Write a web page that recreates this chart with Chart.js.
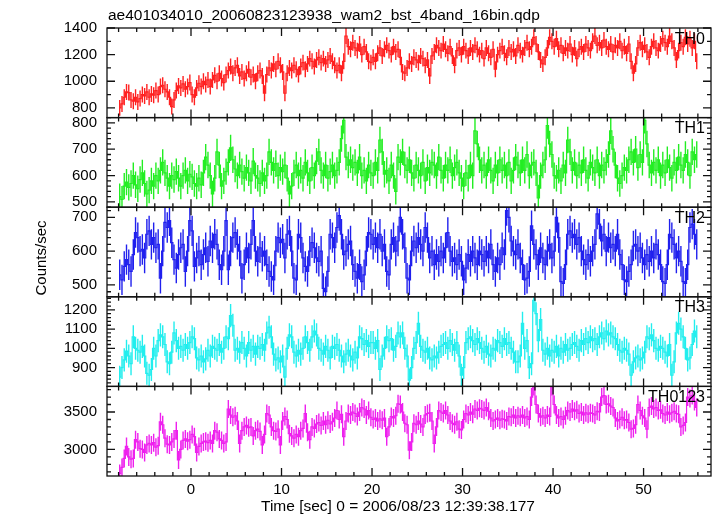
<!DOCTYPE html>
<html><head><meta charset="utf-8">
<script src="https://cdn.jsdelivr.net/npm/chart.js@4.4.1/dist/chart.umd.min.js"></script>
<style>html,body{margin:0;padding:0;background:#fff;}#wrap{width:717px;height:516px;}</style>
</head><body><div id="wrap"><canvas id="c" width="717" height="516"></canvas></div>
<script>
const TITLE = "ae401034010_20060823123938_wam2_bst_4band_16bin.qdp";
const X_TITLE = "Time [sec] 0 = 2006/08/23 12:39:38.177";
const Y_TITLE = "Counts/sec";
const BIN_START = -7.875, BIN_WIDTH = 0.25;
const panelNames = ["TH0", "TH1", "TH2", "TH3", "TH0123"];
const xTickLabels = [0, 10, 20, 30, 40, 50];
const yTickLabels = [
  [800, 1000, 1200, 1400],
  [500, 600, 700, 800],
  [500, 600, 700],
  [900, 1000, 1100, 1200],
  [3000, 3500]
];

const th0 = [
800,830,880,920,915,860,850,880, 845,870,900,890,920,880,905,895,
930,900,960,970,940,920,880,810, 860,930,965,950,980,940,960,990,
900,880,950,985,960,1000,975,1010, 960,1010,1045,1000,1060,1020,990,1050,
1080,1110,1060,1100,1120,1040,1070,1020, 1060,1090,1030,1050,1000,1060,1080,1040,
910,1050,1100,1080,1130,1090,1150,1120, 1070,910,1060,1100,1080,1120,1090,1050,
1110,1140,1090,1130,1170,1150,1110,1160, 1180,1140,1170,1130,1160,1190,1150,1120,
1080,1120,1060,1150,1340,1260,1240,1290, 1250,1230,1280,1200,1260,1220,1150,1140,
1180,1150,1210,1250,1190,1240,1270,1230, 1200,1260,1220,1240,1180,1070,1060,1100,
1150,1130,1180,1160,1140,1190,1170,1120, 1160,1040,1190,1220,1270,1250,1230,1280,
1240,1210,1260,1190,1120,1230,1250,1200, 1260,1230,1190,1250,1220,1270,1240,1200,
1230,1170,1250,1210,1180,1240,1090,1200, 1230,1260,1210,1180,1250,1220,1240,1190,
1270,1230,1200,1250,1290,1240,1260,1330, 1280,1220,1160,1130,1180,1250,1330,1300,
1260,1320,1240,1270,1210,1250,1230,1280, 1200,1250,1170,1240,1260,1220,1280,1250,
1230,1300,1340,1270,1290,1250,1310,1260, 1240,1280,1220,1270,1250,1300,1230,1260,
1210,1280,1150,1060,1130,1250,1290,1240, 1270,1220,1180,1260,1300,1250,1230,1280,
1320,1290,1260,1340,1300,1250,1160,1230, 1290,1260,1330,1280,1320,1250,1300,1150
];
const th1 = [
520,510,560,575,555,570,600,565, 550,585,610,570,530,545,580,560,
600,580,620,650,610,590,560,600, 585,615,590,560,600,620,580,605,
595,570,560,590,565,610,670,640, 600,530,590,690,640,560,580,615,
650,705,660,625,600,640,615,590, 630,610,580,655,600,590,570,610,
580,600,690,650,620,645,600,630, 615,640,590,530,560,610,640,600,
620,590,650,610,580,630,600,655, 690,620,600,640,590,615,640,600,
620,650,740,810,670,640,660,630, 650,610,670,600,620,580,640,610,
600,650,620,735,690,605,620,580, 640,600,540,670,650,690,640,620,
660,610,590,640,620,600,650,580, 630,610,650,640,600,670,620,590,
640,620,660,600,630,650,610,590, 560,610,590,640,600,770,720,660,
620,640,600,660,620,580,640,610, 660,620,640,600,650,580,620,670,
640,610,660,620,680,600,640,650, 610,515,600,640,660,790,720,680,
600,590,620,580,640,610,735,690, 620,650,600,640,610,660,620,590,
650,630,610,660,600,640,620,650, 680,770,700,640,590,570,600,630,
620,660,690,650,700,630,680,650, 810,720,640,610,650,620,660,600,
640,610,660,630,590,650,620,670, 640,620,680,650,600,690,660,680
];
const th2 = [
530,515,555,575,560,540,590,655, 640,600,605,580,650,660,620,640,
610,620,520,600,685,670,690,625, 575,550,590,610,620,540,600,690,
660,555,580,600,560,590,610,570, 630,610,650,620,560,545,600,690,
545,600,640,655,620,600,520,560, 610,580,620,690,600,570,610,585,
600,560,540,525,515,600,640,625, 635,580,650,660,600,520,515,650,
640,580,555,540,600,625,610,580, 570,600,490,480,540,650,640,610,
670,705,650,590,600,620,630,560, 540,520,560,510,530,600,655,650,
620,640,610,650,600,620,540,530, 620,640,600,630,700,650,610,520,
515,600,630,610,640,620,600,670, 640,580,600,560,590,570,600,580,
610,655,600,570,580,560,590,570, 515,550,590,570,600,580,560,600,
590,570,600,580,620,560,540,580, 560,610,590,720,700,630,600,590,
620,580,560,515,520,540,675,620, 590,560,610,580,560,600,620,580,
600,700,640,510,505,560,650,660, 640,650,620,640,600,575,560,590,
570,600,620,710,680,630,650,600, 640,610,620,600,650,590,560,515,
510,540,560,615,620,600,610,580, 560,590,570,600,580,620,590,560,
510,505,560,650,640,620,580,600, 570,510,505,560,670,680,650,620
];
const th3 = [
850,900,940,985,960,920,1060,1000, 990,980,1010,960,870,860,890,1000,
960,1040,1070,1060,1020,930,920,980, 1080,1040,1000,1010,990,1020,1000,1030,
1060,1050,950,940,960,930,945,990, 960,1010,1000,990,1020,980,1000,1060,
1050,1170,1120,990,1000,980,1030,1000, 960,1030,990,1010,970,1010,1000,1020,
990,1080,1110,1060,970,940,950,930, 960,850,1000,1070,1060,980,960,990,
970,1000,1060,1030,990,1060,1090,1070, 1000,990,970,1010,990,950,1010,1000,
1020,990,960,930,970,990,960,940, 980,950,1060,1050,1020,1040,1010,1030,
1030,1000,1040,890,960,1000,1060,1040, 1050,990,1010,1080,1060,1080,1000,960,
835,900,1000,1030,1130,1010,990,980, 1000,950,940,960,950,980,1010,1020,
1030,1000,1040,1020,990,1030,960,860, 900,1030,1050,1060,1040,1020,1050,1030,
1000,980,1010,970,960,1000,990,1040, 1030,1010,1050,1020,1030,1000,980,930,
930,960,1130,1000,1040,900,920,1250, 1180,1040,1150,990,970,1000,960,990,
980,1010,960,1000,980,1020,990,1000, 1020,1030,1010,990,1040,1020,1050,1030,
1060,1040,1050,1020,1060,1080,1050,1090, 1070,1080,1060,1050,1020,990,980,1000,
990,970,860,930,950,960,940,950, 980,1060,1050,1070,1040,1000,990,1010,
1000,980,960,1020,860,930,1080,1130, 1100,1060,1000,940,950,1020,1090,1060
];
const th0123 = [
2680,2760,2880,3040,2900,2870,2880,3130, 3100,3010,3000,2960,3060,3080,3060,3090,
3030,3050,3370,3330,3150,3070,3060,3100, 3140,3250,2860,3000,3120,3140,3110,3130,
3200,3170,2960,3040,3080,3100,3110,3090, 3120,3080,3250,3230,3140,3120,3080,3100,
3540,3460,3430,3450,3380,3080,3250,3300, 3320,3290,3300,3180,3250,3270,3240,3060,
3200,3480,3460,3300,3250,3240,3270,3060, 3380,3440,3400,3210,3180,3150,3200,3170,
3250,3280,3480,3230,3130,3300,3280,3340, 3360,3320,3380,3330,3390,3340,3370,3420,
3520,3400,3470,3170,3380,3480,3460,3500, 3480,3440,3500,3560,3540,3460,3520,3430,
3400,3420,3380,3410,3390,3420,3170,3300, 3440,3420,3450,3610,3600,3500,3350,3330,
2990,3100,3350,3330,3380,3340,3300,3460, 3480,3490,3380,3080,3300,3520,3500,3480,
3520,3460,3380,3350,3330,3370,3270,3260, 3400,3480,3460,3500,3470,3540,3520,3550,
3540,3520,3560,3510,3420,3380,3400,3420, 3390,3410,3400,3380,3440,3430,3460,3420,
3450,3430,3460,3420,3440,3400,3700,3840, 3600,3480,3430,3450,3420,3460,3440,3840,
3600,3460,3420,3440,3400,3450,3520,3500, 3540,3510,3530,3480,3500,3460,3490,3470,
3490,3480,3460,3510,3500,3700,3720,3600, 3610,3580,3560,3420,3380,3400,3430,3390,
3400,3360,3270,3280,3330,3600,3520,3450, 3420,3270,3560,3580,3540,3560,3520,3530,
3480,3460,3500,3470,3490,3510,3480,3470, 3300,3320,3360,3700,3680,3720,3640,3560
];
const seriesValues = [th0, th1, th2, th3, th0123];
const seriesErrors = [60, 50, 45, 60, 120];
const yMin = [727, 480, 465, 802, 2645];
const yMax = [1400, 820, 730, 1268, 3842];
const yMajor = [200, 100, 100, 100, 500];
const yMinor = [100, 20, 20, 20, 100];
const colors = ["#ff2020", "#22ee22", "#2020ee", "#22eeee", "#ee20ee"];

const FONT = "'Liberation Sans', Arial, Helvetica, sans-serif";
const times = th0.map((_, i) => BIN_START + i * BIN_WIDTH);

const datasets = seriesValues.map((vals, k) => ({
  label: panelNames[k],
  data: vals.map((v, i) => ({x: times[i], y: v})),
  err: seriesErrors[k],
  yAxisID: 'y' + k,
  borderColor: colors[k],
  borderWidth: 1.2,
  pointRadius: 0,
  stepped: 'middle',
  fill: false
}));

const scales = {
  x: {
    type: 'linear', min: -9.28, max: 57.45,
    grid: {display: false, drawTicks: false}, border: {display: false},
    afterBuildTicks(s) { s.ticks = xTickLabels.map(v => ({value: v})); },
    ticks: {autoSkip: false, maxRotation: 0, color: '#000', padding: 5,
      font: {family: FONT, size: 15}, callback: v => String(v)},
    title: {display: false},
    afterFit(s) { s.height = 40; }
  }
};
panelNames.forEach((n, k) => {
  scales['y' + k] = {
    type: 'linear', position: 'left', stack: 'panels', stackWeight: 1, weight: 5 - k,
    min: yMin[k], max: yMax[k],
    grid: {display: false, drawTicks: false}, border: {display: false},
    afterBuildTicks(s) { s.ticks = yTickLabels[k].map(v => ({value: v})); },
    ticks: {autoSkip: false, color: '#000', padding: 10,
      font: {family: FONT, size: 15}, callback: v => String(v)},
    title: {display: false},
    afterFit(s) { s.width = 107; }
  };
});

const panelPlugin = {
  id: 'panels',
  beforeDatasetDraw(chart, args) {
    const ds = chart.data.datasets[args.index];
    const ys = chart.scales[ds.yAxisID];
    const ca = chart.chartArea;
    const ctx = chart.ctx;
    ctx.save();
    ctx.beginPath();
    ctx.rect(ca.left, ys.top, ca.right - ca.left, ys.bottom - ys.top);
    ctx.clip();
  },
  afterDatasetDraw(chart, args) {
    const ds = chart.data.datasets[args.index];
    const ys = chart.scales[ds.yAxisID];
    const ctx = chart.ctx;
    ctx.strokeStyle = ds.borderColor;
    ctx.lineWidth = 1.4;
    ctx.beginPath();
    args.meta.data.forEach((pt, i) => {
      const v = ds.data[i].y;
      ctx.moveTo(pt.x, ys.getPixelForValue(v - ds.err));
      ctx.lineTo(pt.x, ys.getPixelForValue(v + ds.err));
    });
    ctx.stroke();
    ctx.restore();
  },
  afterDraw(chart) {
    const ctx = chart.ctx, ca = chart.chartArea, xs = chart.scales.x;
    ctx.save();
    ctx.strokeStyle = '#111';
    ctx.lineWidth = 1.3;
    panelNames.forEach((n, k) => {
      const ys = chart.scales['y' + k];
      ctx.strokeRect(ca.left, ys.top, ca.right - ca.left, ys.bottom - ys.top);
      ctx.beginPath();
      const start = Math.ceil(yMin[k] / yMinor[k]) * yMinor[k];
      for (let v = start; v <= yMax[k]; v += yMinor[k]) {
        const p = ys.getPixelForValue(v);
        const len = (v % yMajor[k] === 0) ? 8 : 4;
        ctx.moveTo(ca.left, p); ctx.lineTo(ca.left + len, p);
        ctx.moveTo(ca.right, p); ctx.lineTo(ca.right - len, p);
      }
      for (let t = -8; t <= 56; t += 2) {
        const p = xs.getPixelForValue(t);
        const len = (t % 10 === 0) ? 8 : 4;
        ctx.moveTo(p, ys.top); ctx.lineTo(p, ys.top + len);
        ctx.moveTo(p, ys.bottom); ctx.lineTo(p, ys.bottom - len);
      }
      ctx.stroke();
      ctx.fillStyle = '#000';
      ctx.font = '16px ' + FONT;
      ctx.textAlign = 'right';
      ctx.textBaseline = 'alphabetic';
      ctx.fillText(n, ca.right - 6, ys.top + 15.5);
    });
    ctx.fillStyle = '#000';
    ctx.textAlign = 'left';
    ctx.textBaseline = 'alphabetic';
    ctx.font = '15.5px ' + FONT;
    ctx.fillText(TITLE, 108, 20);
    ctx.fillText(X_TITLE, 261, 511);
    const ymid = chart.scales.y2;
    ctx.translate(46, 258);
    ctx.rotate(-Math.PI / 2);
    ctx.textAlign = 'center';
    ctx.font = '15px ' + FONT;
    ctx.fillText(Y_TITLE, 0, 0);
    ctx.restore();
  }
};

new Chart(document.getElementById('c'), {
  type: 'line',
  data: {datasets},
  options: {
    responsive: false, animation: false, devicePixelRatio: 1,
    layout: {padding: {top: 28, right: 6, left: 0, bottom: 0}},
    plugins: {legend: {display: false}, tooltip: {enabled: false}, title: {display: false}},
    scales
  },
  plugins: [panelPlugin]
});
</script></body></html>
